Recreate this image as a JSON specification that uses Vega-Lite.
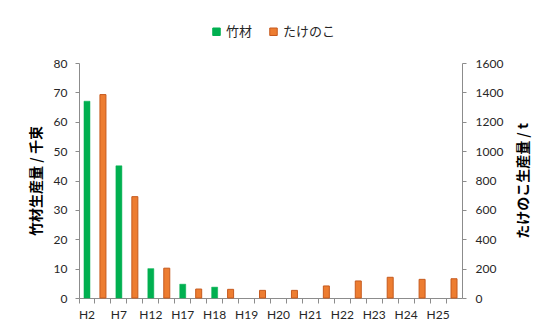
{
  "$schema": "https://vega.github.io/schema/vega-lite/v6.json",
  "width": 383,
  "height": 235,
  "autosize": "none",
  "padding": {"left": 79, "top": 63, "right": 84, "bottom": 33},
  "background": "white",
  "config": {
    "view": {"stroke": null},
    "font": "Lato",
    "axis": {"labelFont": "Lato", "labelFontSize": 12, "labelColor": "#262626", "domainColor": "#8c8c8c", "tickColor": "#8c8c8c", "grid": false, "labelOverlap": false, "titleFont": "Noto Sans CJK JP", "titleFontSize": 14, "titleFontWeight": "bold", "titleColor": "#000000"}
  },
  "data": {
    "values": [
      {"year": "H2", "series": "竹材", "value": 67},
      {"year": "H2", "series": "たけのこ", "value": 1385},
      {"year": "H7", "series": "竹材", "value": 45},
      {"year": "H7", "series": "たけのこ", "value": 690},
      {"year": "H12", "series": "竹材", "value": 10},
      {"year": "H12", "series": "たけのこ", "value": 203},
      {"year": "H17", "series": "竹材", "value": 4.7},
      {"year": "H17", "series": "たけのこ", "value": 61},
      {"year": "H18", "series": "竹材", "value": 3.7},
      {"year": "H18", "series": "たけのこ", "value": 59},
      {"year": "H19", "series": "たけのこ", "value": 52},
      {"year": "H20", "series": "たけのこ", "value": 52},
      {"year": "H21", "series": "たけのこ", "value": 82},
      {"year": "H22", "series": "たけのこ", "value": 116},
      {"year": "H23", "series": "たけのこ", "value": 141},
      {"year": "H24", "series": "たけのこ", "value": 127},
      {"year": "H25", "series": "たけのこ", "value": 131}
    ]
  },
  "transform": [
    {"calculate": "datum.year + (datum.series === '竹材' ? 'a' : 'b')", "as": "slot"}
  ],
  "layer": [
    {
      "transform": [{"filter": "datum.series === '竹材'"}],
      "mark": {"type": "bar", "size": 6, "strokeWidth": 0.5},
      "encoding": {
        "x": {
          "field": "slot",
          "type": "nominal",
          "sort": null,
          "scale": {
            "domain": ["H2a","H2b","H7a","H7b","H12a","H12b","H17a","H17b","H18a","H18b","H19a","H19b","H20a","H20b","H21a","H21b","H22a","H22b","H23a","H23b","H24a","H24b","H25a","H25b"],
            "paddingInner": 0,
            "paddingOuter": 0
          },
          "axis": {
            "title": null,
            "bandPosition": 0,
            "labelOffset": 0,
            "labelAngle": 0,
            "labelAlign": "center",
            "labelExpr": "slice(datum.value, -1) === 'a' ? slice(datum.value, 0, -1) : ''",
            "tickSize": 5,
            "labelPadding": 6
          }
        },
        "y": {
          "field": "value",
          "type": "quantitative",
          "scale": {"domain": [0, 80], "nice": false},
          "axis": {
            "title": "竹材生産量 / 千束",
            "values": [0, 10, 20, 30, 40, 50, 60, 70, 80],
            "tickSize": 4,
            "labelPadding": 8,
            "titlePadding": 10
          }
        },
        "color": {
          "field": "series",
          "type": "nominal",
          "scale": {"domain": ["竹材", "たけのこ"], "range": ["#00b050", "#ed7d31"]},
          "legend": {
            "title": null,
            "orient": "none",
            "legendX": 131,
            "legendY": -38,
            "direction": "horizontal",
            "symbolType": "square",
            "symbolSize": 56,
            "symbolStrokeWidth": 1,
            "labelFont": "Noto Sans CJK JP",
            "labelFontSize": 13,
            "labelColor": "#262626",
            "labelOffset": 3,
            "columnPadding": 14
          }
        },
        "stroke": {
          "field": "series",
          "type": "nominal",
          "scale": {"domain": ["竹材", "たけのこ"], "range": ["#00b050", "#c65a1e"]},
          "legend": {
            "title": null,
            "orient": "none",
            "legendX": 131,
            "legendY": -38,
            "direction": "horizontal",
            "symbolType": "square",
            "symbolSize": 56,
            "symbolStrokeWidth": 1,
            "labelFont": "Noto Sans CJK JP",
            "labelFontSize": 13,
            "labelColor": "#262626",
            "labelOffset": 3,
            "columnPadding": 14
          }
        }
      }
    },
    {
      "transform": [{"filter": "datum.series === 'たけのこ'"}],
      "mark": {"type": "bar", "size": 6, "strokeWidth": 1},
      "encoding": {
        "x": {"field": "slot", "type": "nominal", "sort": null},
        "y": {
          "field": "value",
          "type": "quantitative",
          "scale": {"domain": [0, 1600], "nice": false},
          "axis": {
            "orient": "right",
            "title": "たけのこ生産量 / t",
            "titleAngle": 270,
            "format": "d",
            "values": [0, 200, 400, 600, 800, 1000, 1200, 1400, 1600],
            "tickSize": 4,
            "labelPadding": 9,
            "titlePadding": 28
          }
        },
        "color": {"field": "series", "type": "nominal"},
        "stroke": {"field": "series", "type": "nominal"}
      }
    }
  ],
  "resolve": {"scale": {"y": "independent"}}
}
